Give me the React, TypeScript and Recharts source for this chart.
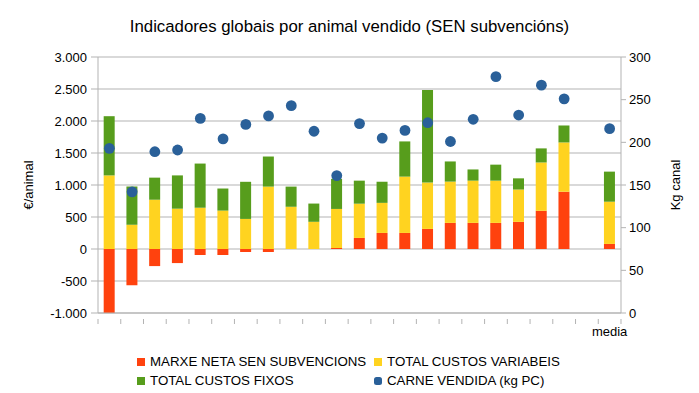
import React from 'react';
import { ComposedChart, Bar, Scatter, XAxis, YAxis, CartesianGrid } from 'recharts';

const categories = ['1', '2', '3', '4', '5', '6', '7', '8', '9', '10', '11', '12', '13', '14', '15', '16', '17', '18', '19', '20', '21', '', 'media'];
const marxeNeta = [-1000, -565, -267, -220, -94, -94, -47, -47, 0, 0, 16, 173, 251, 251, 314, 408, 408, 408, 424, 597, 895, null, 79];
const custosVariabeis = [1150, 380, 770, 630, 645, 600, 470, 975, 660, 425, 610, 535, 470, 880, 725, 645, 660, 660, 505, 755, 770, null, 660];
const custosFixos = [925, 595, 345, 520, 690, 345, 580, 470, 315, 285, 470, 360, 330, 550, 1445, 315, 175, 250, 175, 220, 265, null, 470];
const carneVendida = [193, 142, 189, 191, 228, 204, 221, 231, 243, 213, 161, 222, 205, 214, 223, 201, 227, 277, 232, 267, 251, null, 216];

const leftTicks = [-1000, -500, 0, 500, 1000, 1500, 2000, 2500, 3000];
const rightTicks = [0, 50, 100, 150, 200, 250, 300];

const data = categories.map((name, i) => ({
  name,
  key: `c${i}`,
  marxe: marxeNeta[i],
  variabeis: custosVariabeis[i],
  fixos: custosFixos[i],
  carne: carneVendida[i],
}));

const RED = '#ff420e';
const YELLOW = '#ffd320';
const GREEN = '#579d1c';
const BLUE = '#2a6099';
const GRAY = '#b3b3b3';
const FONT = '"Liberation Sans", Arial, sans-serif';

const fmt = (v: number) => {
  const s = Math.abs(v).toString().replace(/\B(?=(\d{3})+(?!\d))/g, '.');
  return v < 0 ? `-${s}` : s;
};

const CategoryTick = (props: any) => {
  const { x, y, index } = props;
  const half = 522.4 / categories.length / 2;
  const label = categories[index] === 'media' ? 'media' : '';
  return (
    <g>
      <line x1={x - half} x2={x - half} y1={y - 2} y2={y + 3} stroke={GRAY} />
      {index === categories.length - 1 && (
        <line x1={x + half} x2={x + half} y1={y - 2} y2={y + 3} stroke={GRAY} />
      )}
      {label && (
        <text x={x} y={y + 15} textAnchor="middle" fontSize={13} fill="#000" fontFamily={FONT}>
          {label}
        </text>
      )}
    </g>
  );
};

const Dot = (props: any) => {
  const { cx, cy, payload } = props;
  if (payload == null || payload.carne == null) return <g />;
  return <circle cx={cx} cy={cy} r={5.4} fill={BLUE} />;
};

const legendItems = [
  { label: 'MARXE NETA SEN SUBVENCIONS', color: RED, round: false, left: 137, top: 354 },
  { label: 'TOTAL CUSTOS VARIABEIS', color: YELLOW, round: false, left: 374, top: 354 },
  { label: 'TOTAL CUSTOS FIXOS', color: GREEN, round: false, left: 137, top: 373 },
  { label: 'CARNE VENDIDA (kg PC)', color: BLUE, round: true, left: 374, top: 373 },
];

export default function App() {
  return (
    <div style={{ position: 'absolute', left: 0, top: 0, width: 699, height: 393, background: '#fff', fontFamily: FONT }}>
      <div
        style={{
          position: 'absolute',
          top: 17,
          left: 0,
          width: 699,
          textAlign: 'center',
          fontSize: 16.8,
          color: '#000',
        }}
      >
        Indicadores globais por animal vendido (SEN subvencións)
      </div>
      <ComposedChart
        width={699}
        height={393}
        data={data}
        stackOffset="sign"
        barCategoryGap="25%"
        margin={{ top: 57, right: 0, left: 0, bottom: 60 }}
      >
        <CartesianGrid yAxisId="left" vertical={false} stroke={GRAY} />
        <XAxis
          dataKey="key"
          height={20}
          stroke={GRAY}
          tickLine={false}
          interval={0}
          tick={<CategoryTick />}
        />
        <YAxis
          yAxisId="left"
          width={98}
          domain={[-1000, 3000]}
          ticks={leftTicks}
          tickFormatter={fmt}
          stroke={GRAY}
          tickSize={7}
          tickMargin={4}
          tick={{ fill: '#000', fontSize: 13, fontFamily: FONT }}
          label={{
            value: '€/animal',
            angle: -90,
            position: 'insideLeft',
            offset: 28,
            style: { textAnchor: 'middle', fill: '#000', fontSize: 13, fontFamily: FONT },
          }}
        />
        <YAxis
          yAxisId="right"
          orientation="right"
          width={78}
          domain={[0, 300]}
          ticks={rightTicks}
          stroke={GRAY}
          tickSize={5}
          tickMargin={3}
          tick={{ fill: '#000', fontSize: 13, fontFamily: FONT }}
          label={{
            value: 'Kg canal',
            angle: -90,
            position: 'insideRight',
            offset: 24,
            style: { textAnchor: 'middle', fill: '#000', fontSize: 13, fontFamily: FONT },
          }}
        />
        <Bar yAxisId="left" dataKey="marxe" stackId="a" fill={RED} isAnimationActive={false} />
        <Bar yAxisId="left" dataKey="variabeis" stackId="a" fill={YELLOW} isAnimationActive={false} />
        <Bar yAxisId="left" dataKey="fixos" stackId="a" fill={GREEN} isAnimationActive={false} />
        <Scatter yAxisId="right" dataKey="carne" fill={BLUE} shape={<Dot />} isAnimationActive={false} />
      </ComposedChart>
      {legendItems.map((it) => (
        <div
          key={it.label}
          style={{
            position: 'absolute',
            left: it.left,
            top: it.top,
            display: 'flex',
            alignItems: 'center',
            fontSize: 13.3,
            color: '#000',
            whiteSpace: 'nowrap',
          }}
        >
          <span
            style={{
              display: 'inline-block',
              width: 8,
              height: 8,
              background: it.color,
              borderRadius: it.round ? 2.5 : 0,
              marginRight: 5,
            }}
          />
          {it.label}
        </div>
      ))}
    </div>
  );
}
